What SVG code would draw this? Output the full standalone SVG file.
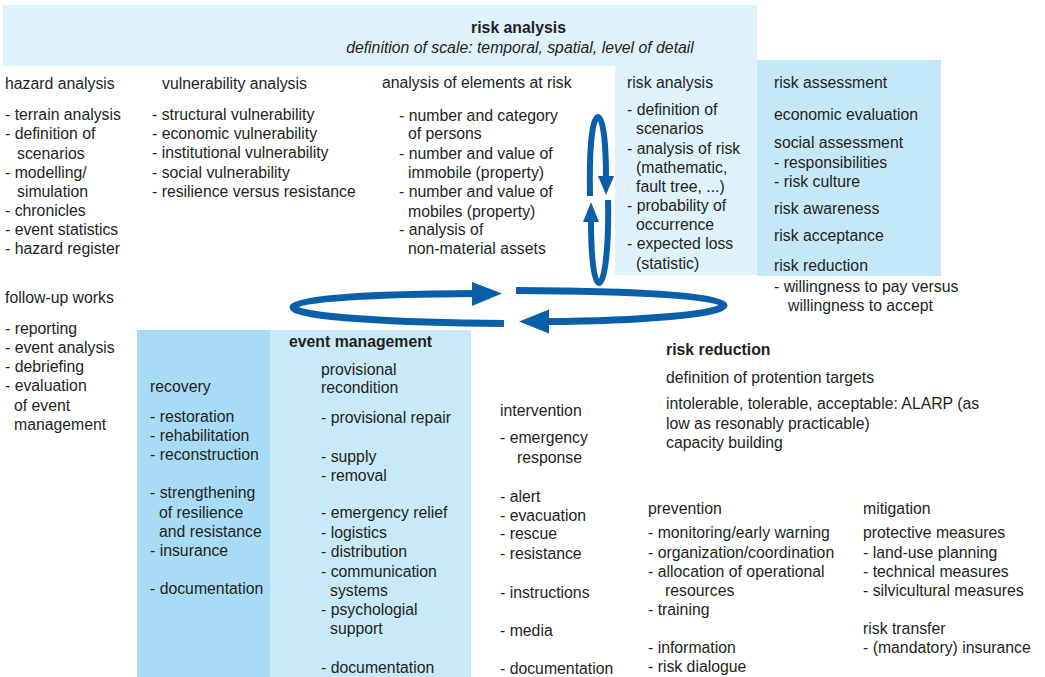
<svg xmlns="http://www.w3.org/2000/svg" width="1045" height="677" viewBox="0 0 1045 677">
  <style>
    text { font-family: "Liberation Sans", Arial, Helvetica, sans-serif; font-size: 15.8px; fill: #231f20; }
    .b { font-weight: bold; }
    .i { font-style: italic; }
    .m { text-anchor: middle; }
    .pale { fill: #dff1fa; }
    .mid { fill: #c5e8f8; }
    .deep { fill: #a8dcf6; }
    .soft { fill: #c8e9f8; }
    .loop { fill: none; stroke: #0b5ea8; stroke-width: 7; }
    .loop-v { fill: none; stroke: #0b5ea8; stroke-width: 6; }
    .head { fill: #0b5ea8; }
  </style>

  <rect width="1045" height="677" fill="#ffffff"/>

  <!-- header band -->
  <g id="risk-analysis-banner">
    <rect class="pale" x="3" y="5" width="754" height="61"/>
    <text class="b m" x="518.5" y="33">risk analysis</text>
    <text class="i m" x="520" y="53">definition of scale: temporal, spatial, level of detail</text>
  </g>

  <g id="hazard-analysis">
    <text x="5" y="89">hazard analysis</text>
    <text x="5" y="120">- terrain analysis</text>
    <text x="5" y="139">- definition of</text>
    <text x="17" y="159">scenarios</text>
    <text x="5" y="178">- modelling/</text>
    <text x="17" y="197">simulation</text>
    <text x="5" y="216">- chronicles</text>
    <text x="5" y="235">- event statistics</text>
    <text x="5" y="254">- hazard register</text>
  </g>

  <g id="vulnerability-analysis">
    <text x="162" y="89">vulnerability analysis</text>
    <text x="152" y="120">- structural vulnerability</text>
    <text x="152" y="139">- economic vulnerability</text>
    <text x="152" y="158">- institutional vulnerability</text>
    <text x="152" y="178">- social vulnerability</text>
    <text x="152" y="197">- resilience versus resistance</text>
  </g>

  <g id="elements-at-risk">
    <text x="382" y="88">analysis of elements at risk</text>
    <text x="399" y="121">- number and category</text>
    <text x="408" y="139">of persons</text>
    <text x="399" y="159">- number and value of</text>
    <text x="408" y="178">immobile (property)</text>
    <text x="399" y="197">- number and value of</text>
    <text x="408" y="217">mobiles (property)</text>
    <text x="399" y="235">- analysis of</text>
    <text x="408" y="254">non-material assets</text>
  </g>

  <g id="risk-analysis">
    <rect class="pale" x="615" y="66" width="142" height="209"/>
    <text x="627" y="88">risk analysis</text>
    <text x="627" y="115">- definition of</text>
    <text x="636" y="134">scenarios</text>
    <text x="627" y="154">- analysis of risk</text>
    <text x="636" y="173">(mathematic,</text>
    <text x="636" y="192">fault tree, ...)</text>
    <text x="627" y="211">- probability of</text>
    <text x="636" y="230">occurrence</text>
    <text x="627" y="249">- expected loss</text>
    <text x="636" y="269">(statistic)</text>
  </g>

  <g id="risk-assessment">
    <rect class="mid" x="757" y="60" width="184" height="216"/>
    <text x="774" y="88">risk assessment</text>
    <text x="774" y="120">economic evaluation</text>
    <text x="774" y="148">social assessment</text>
    <text x="774" y="168">- responsibilities</text>
    <text x="774" y="187">- risk culture</text>
    <text x="774" y="214">risk awareness</text>
    <text x="774" y="241">risk acceptance</text>
    <text x="774" y="271">risk reduction</text>
    <text x="774" y="292">- willingness to pay versus</text>
    <text x="788" y="311">willingness to accept</text>
  </g>

  <g id="follow-up-works">
    <text x="5" y="303">follow-up works</text>
    <text x="5" y="334">- reporting</text>
    <text x="5" y="353">- event analysis</text>
    <text x="5" y="372">- debriefing</text>
    <text x="5" y="391">- evaluation</text>
    <text x="14" y="411">of event</text>
    <text x="14" y="430">management</text>
  </g>

  <g id="recovery">
    <rect class="deep" x="137" y="330" width="133" height="347"/>
    <text x="150" y="392">recovery</text>
    <text x="150" y="422">- restoration</text>
    <text x="150" y="441">- rehabilitation</text>
    <text x="150" y="460">- reconstruction</text>
    <text x="150" y="498">- strengthening</text>
    <text x="159" y="518">of resilience</text>
    <text x="159" y="537">and resistance</text>
    <text x="150" y="556">- insurance</text>
    <text x="150" y="594">- documentation</text>
  </g>

  <g id="event-management">
    <rect class="soft" x="270" y="330" width="201" height="347"/>
    <text class="b" x="289" y="347">event management</text>
    <text x="321" y="375">provisional</text>
    <text x="321" y="393">recondition</text>
    <text x="321" y="423">- provisional repair</text>
    <text x="321" y="462">- supply</text>
    <text x="321" y="481">- removal</text>
    <text x="321" y="518">- emergency relief</text>
    <text x="321" y="538">- logistics</text>
    <text x="321" y="557">- distribution</text>
    <text x="321" y="577">- communication</text>
    <text x="330" y="596">systems</text>
    <text x="321" y="615">- psychologial</text>
    <text x="330" y="634">support</text>
    <text x="321" y="673">- documentation</text>
  </g>

  <g id="intervention">
    <text x="500" y="416">intervention</text>
    <text x="500" y="443">- emergency</text>
    <text x="517" y="463">response</text>
    <text x="500" y="502">- alert</text>
    <text x="500" y="521">- evacuation</text>
    <text x="500" y="539">- rescue</text>
    <text x="500" y="559">- resistance</text>
    <text x="500" y="598">- instructions</text>
    <text x="500" y="636">- media</text>
    <text x="500" y="674">- documentation</text>
  </g>

  <g id="risk-reduction">
    <text class="b" x="666" y="355">risk reduction</text>
    <text x="666" y="383">definition of protention targets</text>
    <text x="666" y="409">intolerable, tolerable, acceptable: ALARP (as</text>
    <text x="666" y="429">low as resonably practicable)</text>
    <text x="666" y="448">capacity building</text>
  </g>

  <g id="prevention">
    <text x="648" y="514">prevention</text>
    <text x="648" y="538">- monitoring/early warning</text>
    <text x="648" y="558">- organization/coordination</text>
    <text x="648" y="577">- allocation of operational</text>
    <text x="665" y="596">resources</text>
    <text x="648" y="615">- training</text>
    <text x="648" y="653">- information</text>
    <text x="648" y="672">- risk dialogue</text>
  </g>

  <g id="mitigation">
    <text x="863" y="514">mitigation</text>
    <text x="863" y="538">protective measures</text>
    <text x="863" y="558">- land-use planning</text>
    <text x="863" y="577">- technical measures</text>
    <text x="863" y="596">- silvicultural measures</text>
    <text x="863" y="634">risk transfer</text>
    <text x="863" y="653">- (mandatory) insurance</text>
  </g>

  <!-- cycle arrows -->
  <g id="connectors">
    <!-- large horizontal loop, left half (runs to the right along the top) -->
    <path class="loop" d="M 504 323.5 C 400 323, 293 317, 293 307 C 293 298, 380 294, 475 293.5"/>
    <polygon class="head" points="502,293.5 472,282 472,306"/>
    <!-- large horizontal loop, right half (runs to the left along the bottom) -->
    <path class="loop" d="M 516 290.5 C 640 291, 724 296, 724 305 C 724 314, 640 321, 547 321.5"/>
    <polygon class="head" points="519,321.5 549,309.5 549,333.5"/>
    <!-- small vertical loop, upper half (down on the right) -->
    <path class="loop-v" d="M 590 196 C 589 150, 592 117, 598 117 C 604 117, 606 150, 606 178"/>
    <polygon class="head" points="606,195 598,176 614,176"/>
    <!-- small vertical loop, lower half (up on the left) -->
    <path class="loop-v" d="M 608 200 C 609 245, 605 283, 599 283 C 593 283, 591 250, 591 220"/>
    <polygon class="head" points="591,202 583,222 599,222"/>
  </g>
</svg>
